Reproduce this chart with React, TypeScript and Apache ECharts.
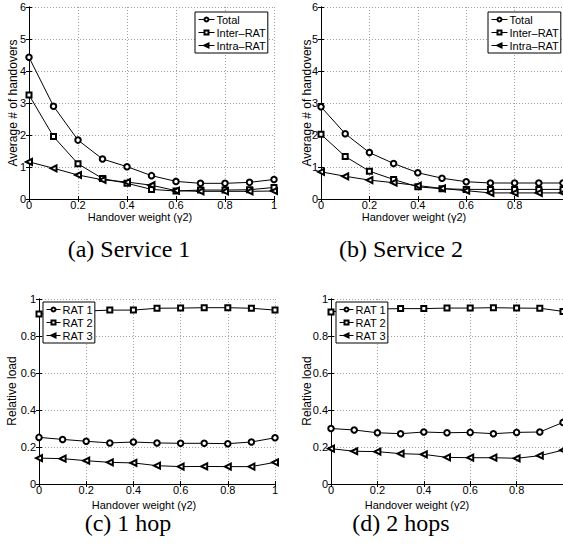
import React, { useEffect, useRef } from "react";
import * as echarts from "echarts";

const xs = [0, 0.1, 0.2, 0.3, 0.4, 0.5, 0.6, 0.7, 0.8, 0.9, 1.0];

const handoverNames = ["Total", "Inter–RAT", "Intra–RAT"];
const loadNames = ["RAT 1", "RAT 2", "RAT 3"];

// (a) Service 1
const s1Total = [4.43, 2.9, 1.84, 1.25, 1.01, 0.73, 0.55, 0.49, 0.49, 0.52, 0.61];
const s1Inter = [3.25, 1.95, 1.1, 0.64, 0.49, 0.3, 0.25, 0.28, 0.28, 0.29, 0.36];
const s1Intra = [1.16, 0.96, 0.75, 0.6, 0.53, 0.43, 0.26, 0.24, 0.24, 0.24, 0.25];
// (b) Service 2
const s2Total = [2.88, 2.04, 1.45, 1.11, 0.82, 0.65, 0.54, 0.5, 0.5, 0.5, 0.5];
const s2Inter = [2.02, 1.33, 0.87, 0.61, 0.38, 0.32, 0.3, 0.3, 0.3, 0.3, 0.3];
const s2Intra = [0.85, 0.71, 0.59, 0.51, 0.42, 0.33, 0.26, 0.19, 0.19, 0.19, 0.19];
// (c) 1 hop
const h1Rat1 = [0.252, 0.241, 0.231, 0.222, 0.227, 0.222, 0.22, 0.22, 0.218, 0.227, 0.25];
const h1Rat2 = [0.919, 0.93, 0.935, 0.94, 0.94, 0.95, 0.951, 0.953, 0.953, 0.95, 0.94];
const h1Rat3 = [0.14, 0.137, 0.126, 0.117, 0.114, 0.099, 0.094, 0.095, 0.094, 0.094, 0.117];
// (d) 2 hops
const h2Rat1 = [0.3, 0.292, 0.277, 0.272, 0.281, 0.277, 0.279, 0.272, 0.279, 0.281, 0.333];
const h2Rat2 = [0.93, 0.945, 0.946, 0.948, 0.948, 0.951, 0.951, 0.953, 0.951, 0.95, 0.933];
const h2Rat3 = [0.191, 0.177, 0.175, 0.164, 0.16, 0.144, 0.142, 0.142, 0.139, 0.153, 0.183];

const captions = ["(a) Service 1", "(b) Service 2", "(c) 1 hop", "(d) 2 hops"];
const xTitle = "Handover weight (γ2)";
const yTitles = ["Average # of handovers", "Average # of handovers", "Relative load", "Relative load"];

const FONT = "'Liberation Sans', Arial, Helvetica, sans-serif";
const SERIF = "'Liberation Serif', 'Times New Roman', serif";

const markers = [
  { symbol: "emptyCircle", rotate: 0, size: 5.5 },
  { symbol: "emptyRect", rotate: 0, size: 5 },
  { symbol: "emptyTriangle", rotate: 90, size: 6 },
];

export default function App() {
  const ref = useRef<HTMLDivElement>(null);
  useEffect(() => {
    if (!ref.current) return;
    const chart = echarts.init(ref.current, undefined, { renderer: "svg" });

    const grids = [
      { left: 29, top: 7, width: 245, height: 192 },
      { left: 321, top: 7, width: 245, height: 192 },
      { left: 39, top: 299, width: 236, height: 185 },
      { left: 331, top: 299, width: 236, height: 185 },
    ];
    const yMax = [6, 6, 1, 1];
    const yInt = [1, 1, 0.2, 0.2];
    const clipped = [false, true, false, true];

    const xAxis: any[] = [];
    const yAxis: any[] = [];
    const axisLine = { show: true, lineStyle: { color: "#000", width: 1 } };
    const tick = { show: true, inside: true, length: 3, lineStyle: { color: "#000" } };
    const split = { show: true, lineStyle: { color: "#a0a0a0", type: [1, 2], width: 1 } };
    grids.forEach((g, i) => {
      xAxis.push({
        type: "value", gridIndex: i, position: "bottom", min: 0, max: 1, interval: 0.2,
        axisLine, axisTick: tick, splitLine: split,
        axisLabel: { fontFamily: FONT, fontSize: 11, color: "#000", margin: 0, lineHeight: 11, showMaxLabel: !clipped[i] },
      });
      xAxis.push({
        type: "value", gridIndex: i, position: "top", min: 0, max: 1, interval: 0.2,
        axisLine, axisTick: tick, splitLine: { show: false }, axisLabel: { show: false },
      });
      yAxis.push({
        type: "value", gridIndex: i, position: "left", min: 0, max: yMax[i], interval: yInt[i],
        axisLine, axisTick: tick, splitLine: split,
        axisLabel: { fontFamily: FONT, fontSize: 11, color: "#000", margin: 3 },
      });
      yAxis.push({
        type: "value", gridIndex: i, position: "right", min: 0, max: yMax[i], interval: yInt[i],
        axisLine, axisTick: tick, splitLine: { show: false }, axisLabel: { show: false },
      });
    });

    const panels = [
      { names: handoverNames, data: [s1Total, s1Inter, s1Intra] },
      { names: handoverNames, data: [s2Total, s2Inter, s2Intra] },
      { names: loadNames, data: [h1Rat1, h1Rat2, h1Rat3] },
      { names: loadNames, data: [h2Rat1, h2Rat2, h2Rat3] },
    ];
    const series: any[] = [];
    panels.forEach((p, i) => {
      p.data.forEach((vals, k) => {
        series.push({
          type: "line",
          name: p.names[k],
          xAxisIndex: 2 * i,
          yAxisIndex: 2 * i,
          data: xs.map((x, j) => [x, vals[j]]),
          symbol: markers[k].symbol,
          symbolRotate: markers[k].rotate,
          symbolSize: markers[k].size,
          showSymbol: true,
          lineStyle: { color: "#000", width: 1 },
          itemStyle: { color: "#000", borderWidth: 0.9 },
          emphasis: { disabled: true },
          z: 3,
        });
      });
    });

    const legendPos = [
      { left: 195, top: 12, w: 16 },
      { left: 488, top: 12, w: 16 },
      { left: 43, top: 302, w: 14 },
      { left: 336, top: 302, w: 14 },
    ];
    const legend = legendPos.map((l, i) => ({
      left: l.left, top: l.top, orient: "vertical",
      data: panels[i].names,
      itemWidth: l.w, itemHeight: 5, itemGap: 0,
      padding: [1, 2, 1, 3],
      borderColor: "#000", borderWidth: 1, backgroundColor: "#fff",
      selectedMode: false,
      itemStyle: { borderWidth: 0.9 },
      lineStyle: { width: 1 },
      textStyle: { fontFamily: FONT, fontSize: 11, color: "#000", lineHeight: 13, padding: [0, 0, 0, -3] },
      z: 10,
    }));

    const graphic: any[] = [];
    const xTitlePos = [[140, 217], [414, 217], [144, 505], [417, 505]];
    const yTitlePos = [[13, 103], [307, 103], [12, 391], [307, 391]];
    const capPos = [[129, 249], [401, 249], [128, 523], [401, 523]];
    for (let i = 0; i < 4; i++) {
      graphic.push({
        type: "text", x: xTitlePos[i][0], y: xTitlePos[i][1],
        style: { text: xTitle, fontFamily: FONT, fontSize: 11, fill: "#000", align: "center", verticalAlign: "middle" },
      });
      graphic.push({
        type: "text", x: yTitlePos[i][0], y: yTitlePos[i][1], rotation: Math.PI / 2,
        style: { text: yTitles[i], fontFamily: FONT, fontSize: 12, fill: "#000", align: "center", verticalAlign: "middle" },
      });
      graphic.push({
        type: "text", x: capPos[i][0], y: capPos[i][1],
        style: { text: captions[i], fontFamily: SERIF, fontSize: 24, fill: "#000", align: "center", verticalAlign: "middle" },
      });
    }

    chart.setOption({
      animation: false,
      backgroundColor: "#fff",
      grid: grids,
      xAxis, yAxis, series, legend, graphic,
    });
    return () => chart.dispose();
  }, []);
  return (
    <div
      ref={ref}
      style={{ position: "absolute", left: 0, top: 0, width: 563, height: 550 }}
    />
  );
}
